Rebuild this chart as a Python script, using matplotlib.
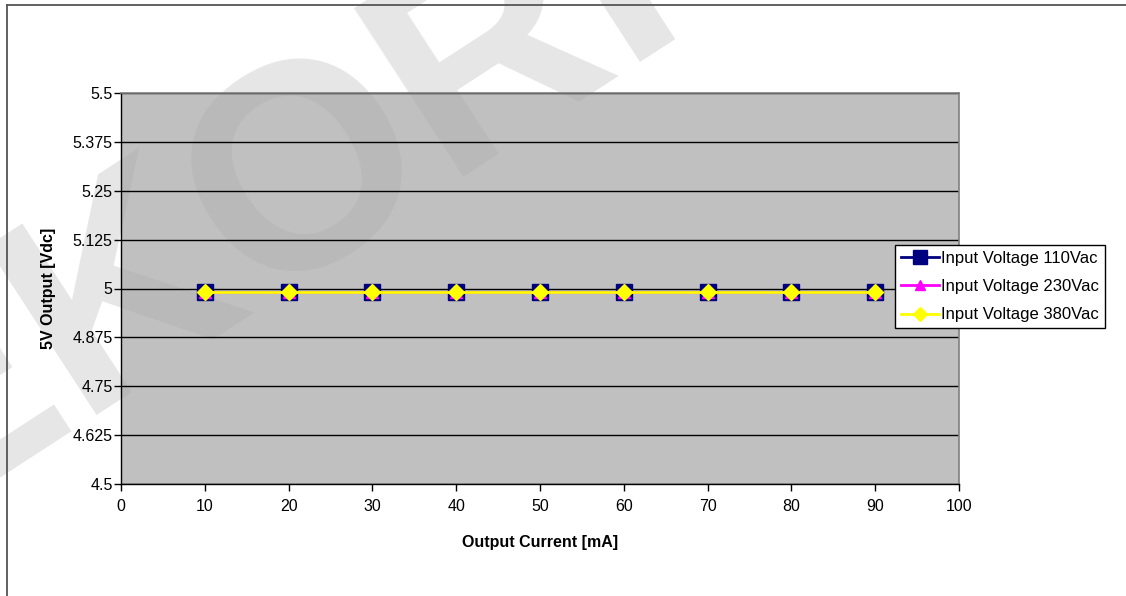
import matplotlib
matplotlib.use("Agg")
import matplotlib.pyplot as plt
from matplotlib.lines import Line2D

plt.rcParams['font.family'] = ['Liberation Sans', 'DejaVu Sans']

# measured 5V rail vs load current
current_mA = [10, 20, 30, 40, 50, 60, 70, 80, 90]
v_110 = [4.992, 4.992, 4.992, 4.992, 4.992, 4.992, 4.992, 4.992, 4.992]
v_230 = [4.992, 4.992, 4.992, 4.992, 4.992, 4.992, 4.992, 4.992, 4.992]
v_380 = [4.992, 4.992, 4.992, 4.992, 4.992, 4.992, 4.992, 4.992, 4.992]

labels = ["Input Voltage 110Vac", "Input Voltage 230Vac", "Input Voltage 380Vac"]
yticks = [4.5, 4.625, 4.75, 4.875, 5, 5.125, 5.25, 5.375, 5.5]
ytick_labels = ["4.5", "4.625", "4.75", "4.875", "5", "5.125", "5.25", "5.375", "5.5"]
xticks = [0, 10, 20, 30, 40, 50, 60, 70, 80, 90, 100]

W, H = 1126, 596
fig = plt.figure(figsize=(W / 100, H / 100), dpi=100)

# outer chart frame (left and top edges only)
fig.add_artist(Line2D([7 / W, 7 / W], [0, 1 - 5 / H], color='#555555', lw=1.3,
                      transform=fig.transFigure))
fig.add_artist(Line2D([7 / W, 1], [1 - 5 / H, 1 - 5 / H], color='#555555', lw=1.3,
                      transform=fig.transFigure))

ax = fig.add_axes([121 / W, 1 - 484 / H, (959 - 121) / W, (484 - 93) / H])
ax.set_facecolor('#C0C0C0')

ax.plot(current_mA, v_110, color='#000080', lw=2, marker='s', ms=11.5,
        mfc='#000080', mec='#000080', label=labels[0], zorder=3)
ax.plot(current_mA, v_230, color='#FF00FF', lw=2, marker='^', ms=9,
        mfc='#FF00FF', mec='#FF00FF', label=labels[1], zorder=4)
ax.plot(current_mA, v_380, color='#FFFF00', lw=2, marker='D', ms=8,
        mfc='#FFFF00', mec='#FFFF00', label=labels[2], zorder=5)

ax.set_xlim(0, 100)
ax.set_ylim(4.5, 5.5)
ax.set_xticks(xticks)
ax.set_yticks(yticks)
ax.set_yticklabels(ytick_labels)
ax.yaxis.grid(True, color='black', lw=1)
ax.set_axisbelow(True)
ax.tick_params(axis='both', direction='out', length=5, width=1, color='black',
               labelsize=11.5)
ax.tick_params(axis='y', pad=1)
ax.tick_params(axis='x', pad=6)

for side in ['top', 'right']:
    ax.spines[side].set_color('#808080')
    ax.spines[side].set_linewidth(1.2)
for side in ['left', 'bottom']:
    ax.spines[side].set_color('black')
    ax.spines[side].set_linewidth(1)

ax.set_xlabel('Output Current [mA]', fontsize=11.5, fontweight='bold', labelpad=15)
ax.set_ylabel('5V Output [Vdc]', fontsize=11.5, fontweight='bold', labelpad=12)

leg = ax.legend(loc='upper left', bbox_to_anchor=(895 / W, 1 - 245 / H),
                bbox_transform=fig.transFigure, fontsize=12, frameon=True,
                fancybox=False, edgecolor='black', framealpha=1,
                handlelength=2.3, handletextpad=0.1, labelspacing=0.8,
                borderpad=0.35, borderaxespad=0, markerscale=0.85)
leg.get_frame().set_linewidth(1)

# faint diagonal watermark: stronger over the white page, fainter over the plot area
wm_xy = (261 / W, 1 - 206 / H)
wm_kw = dict(fontsize=210, fontweight='bold', color='black', rotation=33,
             ha='center', va='center')
fig.text(*wm_xy, 'EKORI', alpha=0.1, zorder=-5, **wm_kw)
ax.text(*wm_xy, 'EKORI', alpha=0.04, transform=fig.transFigure, clip_on=True,
        zorder=1, **wm_kw)
ax.patch.set_zorder(0)

fig.savefig('out.png', dpi=100)
